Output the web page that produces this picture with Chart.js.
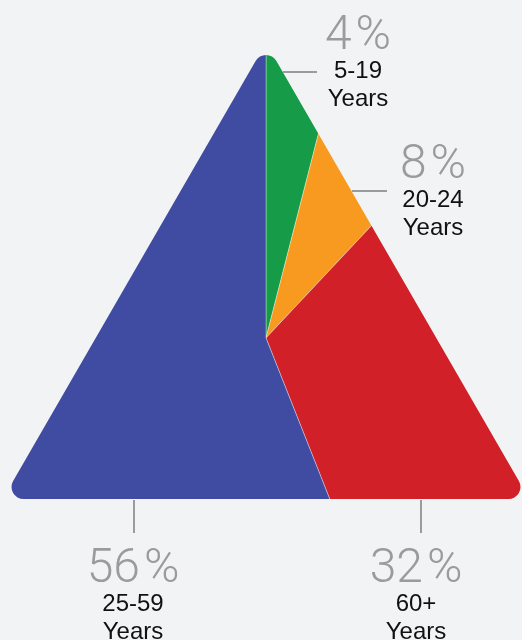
<!DOCTYPE html>
<html>
<head>
<meta charset="utf-8">
<script src="https://cdn.jsdelivr.net/npm/chart.js@4/dist/chart.umd.min.js"></script>
<style>
html, body { margin: 0; padding: 0; background: #f2f3f5; overflow: hidden; }
canvas { display: block; }
</style>
</head>
<body>
<canvas id="tri" width="522" height="640"></canvas>
<script>
// age groups, clockwise from the top vertex
const groups = ["5-19", "20-24", "60+", "25-59"];
const shares = [4, 8, 32, 56];
const colours = ["#169b48", "#f89a1f", "#d12027", "#3f4ca1"];

// callout placement: percent baseline + leader line (x1, y1, x2, y2)
const callouts = [
    { x: 358, y: 49, line: [283, 72, 317, 72] },
    { x: 433, y: 178, line: [352, 191, 387, 191] },
    { x: 416, y: 582, line: [421, 500, 421, 533] },
    { x: 133, y: 582, line: [134, 500, 134, 533] }
];

// the pie is cut to a rounded triangle around its centre
const triangleClip = {
    id: "triangleClip",
    beforeDatasetsDraw(chart) {
        const arc = chart.getDatasetMeta(0).data[0];
        const cx = arc.x, cy = arc.y;
        const top = cy - 295, base = cy + 161;
        const half = (base - top) * Math.tan(Math.PI / 6);
        const p = [[cx, top], [cx + half, base], [cx - half, base]];
        const ctx = chart.ctx;
        ctx.save();
        ctx.beginPath();
        ctx.moveTo((p[0][0] + p[2][0]) / 2, (p[0][1] + p[2][1]) / 2);
        for (let i = 0; i < 3; i++) {
            const n = p[(i + 1) % 3];
            ctx.arcTo(p[i][0], p[i][1], n[0], n[1], 12);
        }
        ctx.closePath();
        ctx.clip();
    },
    afterDatasetsDraw(chart) {
        chart.ctx.restore();
    }
};

const calloutLabels = {
    id: "calloutLabels",
    afterDraw(chart) {
        const ctx = chart.ctx;
        ctx.save();
        shares.forEach((v, i) => {
            const c = callouts[i];
            ctx.strokeStyle = "#9b9b9b";
            ctx.lineWidth = 2;
            ctx.beginPath();
            ctx.moveTo(c.line[0], c.line[1]);
            ctx.lineTo(c.line[2], c.line[3]);
            ctx.stroke();

            // number and % sign drawn apart, with a small gap
            ctx.fillStyle = "#9b9b9b";
            ctx.font = "300 48px Roboto";
            ctx.textAlign = "left";
            const num = String(v);
            const wNum = ctx.measureText(num).width;
            const wPct = ctx.measureText("%").width;
            const gap = 4;
            const x0 = c.x - (wNum + gap + wPct) / 2;
            ctx.fillText(num, x0, c.y);
            ctx.fillText("%", x0 + wNum + gap, c.y);

            ctx.textAlign = "center";
            ctx.fillStyle = "#111";
            ctx.font = "24px 'Liberation Sans', Arial, sans-serif";
            ctx.fillText(groups[i], c.x, c.y + 29);
            ctx.fillText("Years", c.x, c.y + 57);
        });
        ctx.restore();
    }
};

const ctx = document.getElementById("tri");

let myChart = new Chart(ctx, {
    type: "pie",
    data: {
        labels: groups,
        datasets: [{
            data: shares,
            backgroundColor: colours,
            borderColor: "rgba(255,255,255,0.35)",
            borderWidth: 1,
            radius: 420,
            clip: false
        }]
    },
    options: {
        responsive: false,
        animation: false,
        layout: { padding: { left: 10, right: 0, top: 36, bottom: 0 } },
        plugins: {
            legend: { display: false },
            tooltip: { enabled: false }
        }
    },
    plugins: [triangleClip, calloutLabels]
});
</script>
</body>
</html>
